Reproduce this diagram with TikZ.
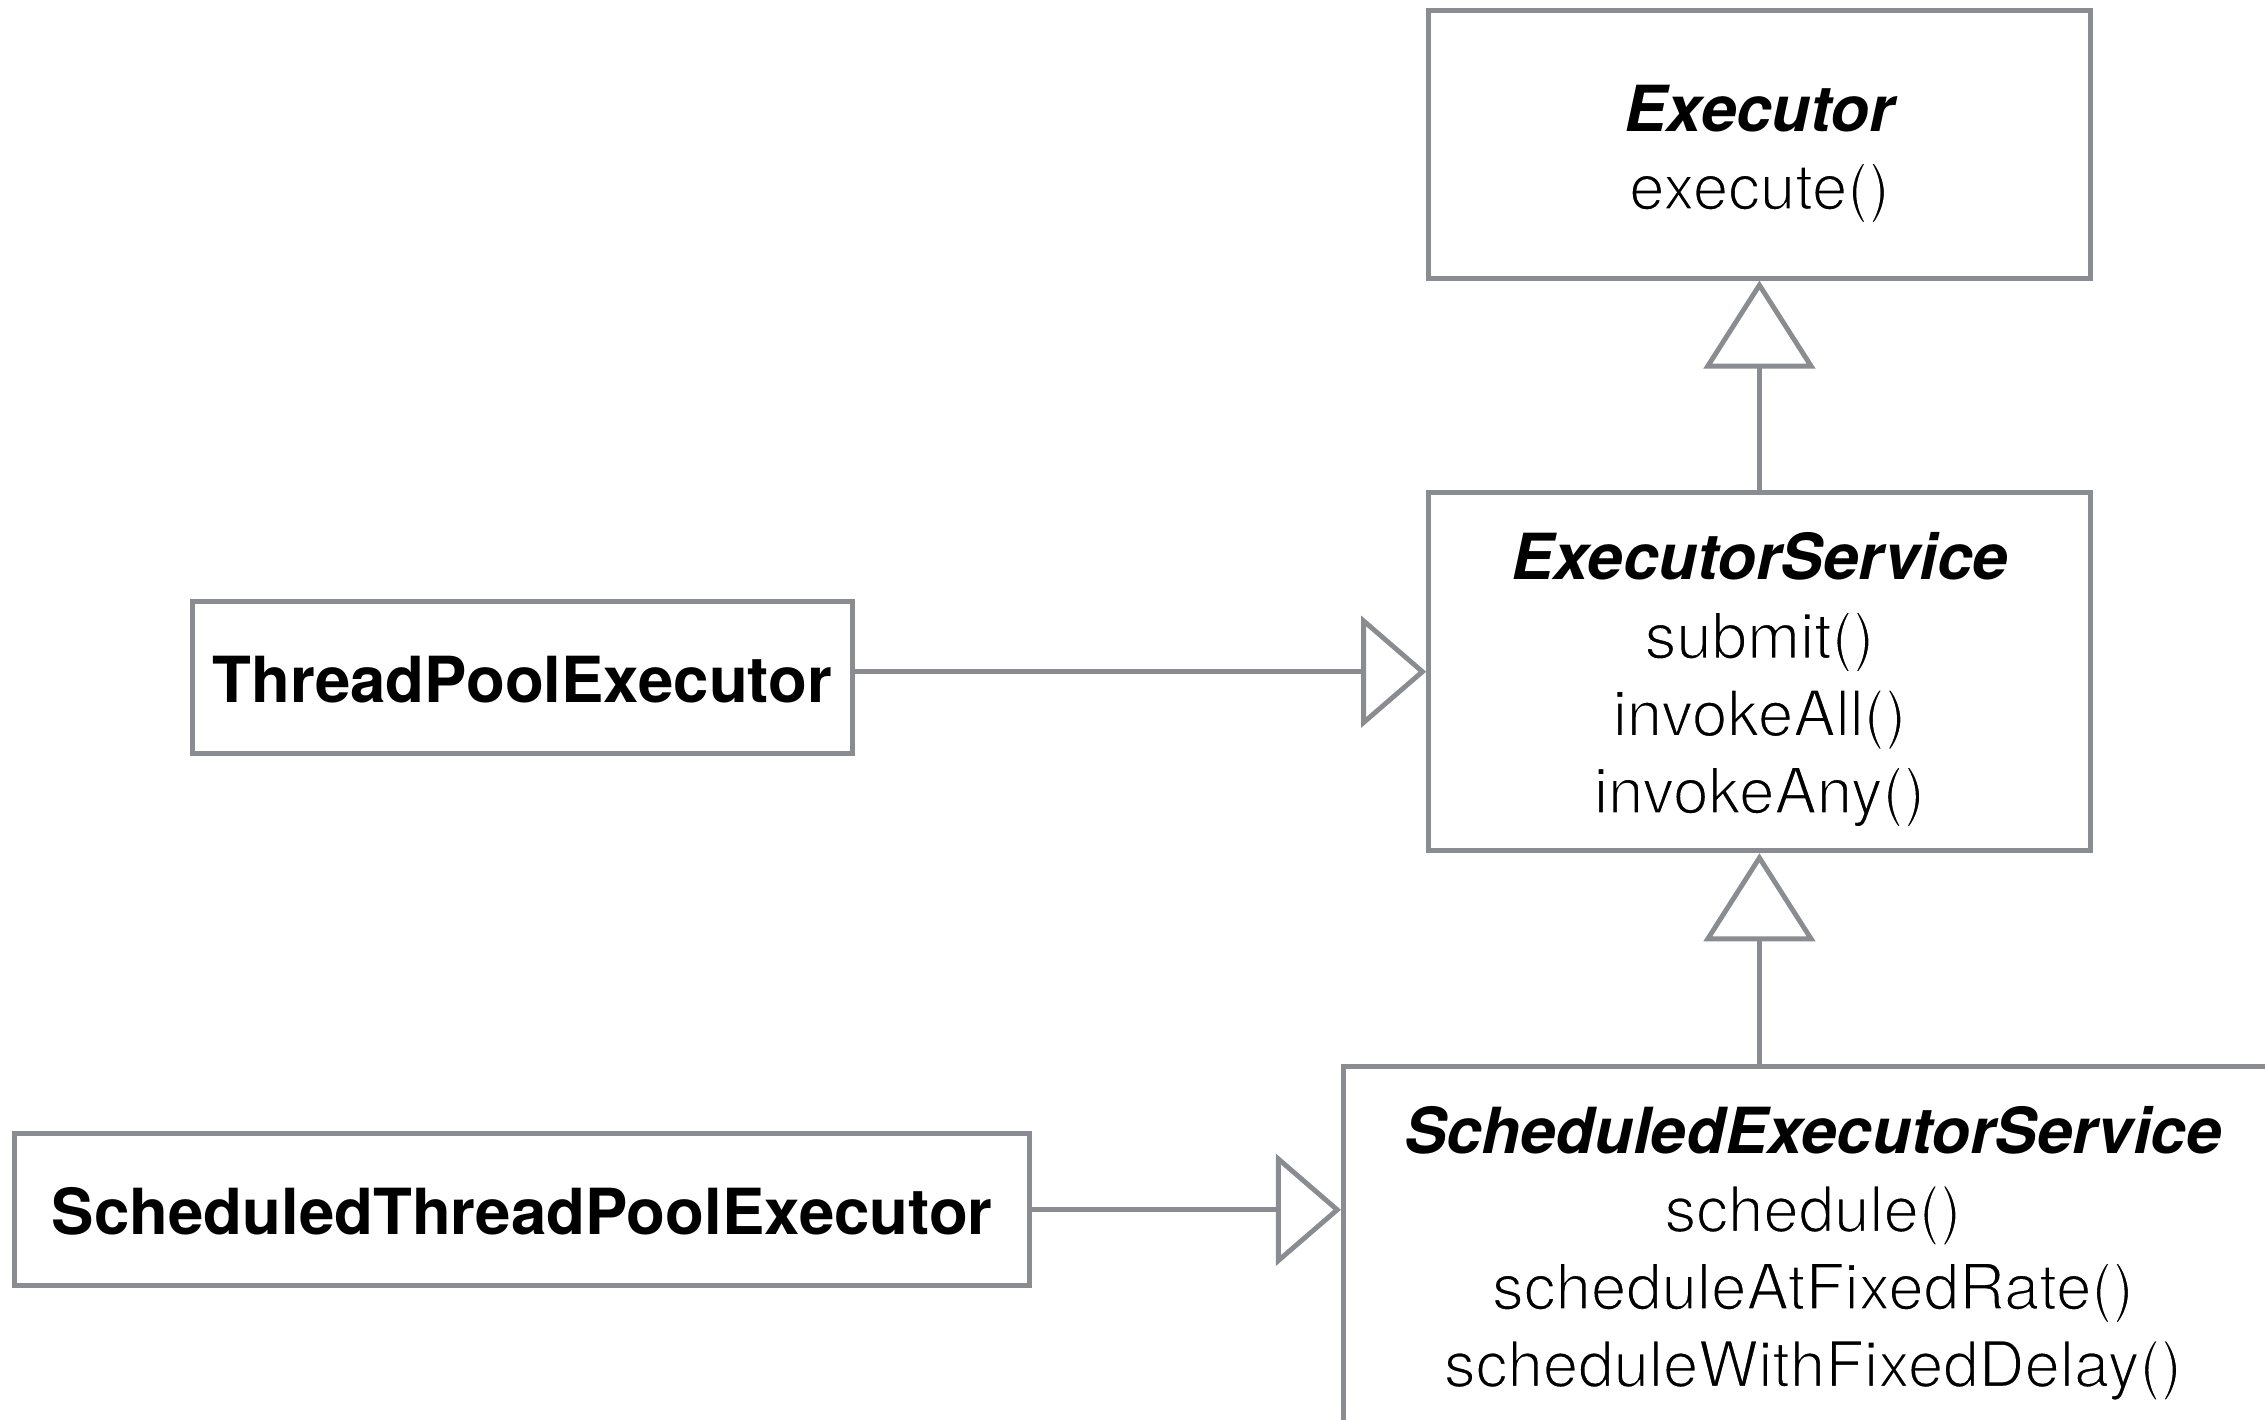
\documentclass[tikz,border=0pt]{standalone}
\usepackage{fontspec}
\setmainfont{TeX Gyre Heros}
\usetikzlibrary{arrows.meta}
\definecolor{linegray}{RGB}{137,140,145}
\begin{document}
\begin{tikzpicture}[x=0.5pt,y=-0.5pt,
  box/.style={draw=linegray, line width=1.7pt, inner sep=0pt, fill=white},
  title/.style={anchor=base, inner sep=0pt, font=\fontsize{22pt}{26pt}\selectfont\bfseries\itshape},
  cls/.style={anchor=base, inner sep=0pt, font=\fontsize{22pt}{26pt}\selectfont\bfseries},
  meth/.style={anchor=base, inner sep=0pt, font=\fontsize{22pt}{26pt}\selectfont,
    execute at begin node={\special{pdf:literal direct 2 Tr 1 1 1 RG 0.6 w}},
    execute at end node={\special{pdf:literal direct 0 Tr}}},
  genv/.style={draw=linegray, line width=1.7pt, -{Triangle[open, length=30.5pt, width=38.5pt]}},
  genh/.style={draw=linegray, line width=1.7pt, -{Triangle[open, length=22.5pt, width=38.5pt]}}]
\useasboundingbox (0,0) rectangle (1568,983);
\clip (0,0) rectangle (1568,983);
% boxes
\node[box, minimum width=229pt, minimum height=92.5pt] (ex) at (1218,100) {};
\node[box, minimum width=229pt, minimum height=124pt] (es) at (1218,465) {};
\node[box, minimum width=228.5pt, minimum height=52.5pt] (tpe) at (361.5,469) {};
\node[box, minimum width=351.5pt, minimum height=52.5pt] (stpe) at (361.5,837.5) {};
\node[box, minimum width=325pt, minimum height=136pt] (ses) at (1255,874) {};
% texts
\node[title] (exT) at (1218,90.7) {Executor};
\node[meth] (exM1) at (1218,144.9) {execute()};
\node[title] (esT) at (1218,401.5) {ExecutorService};
\node[meth] (esM1) at (1218,455.8) {submit()};
\node[meth] (esM2) at (1218,509.5) {invokeAll()};
\node[meth] (esM3) at (1218,563) {invokeAny()};
\node[cls] (tpeT) at (361.5,486.4) {ThreadPoolExecutor};
\node[cls] (stpeT) at (361.5,854.5) {ScheduledThreadPoolExecutor};
\node[title] (sesT) at (1255,798.4) {ScheduledExecutorService};
\node[meth] (sesM1) at (1255,852.7) {schedule()};
\node[meth] (sesM2) at (1255,906.4) {scheduleAtFixedRate()};
\node[meth] (sesM3) at (1255,960) {scheduleWithFixedDelay()};
% connectors
\draw[genv] (es.north) -- (ex.south);
\draw[genv] (es.south |- ses.north) -- (es.south);
\draw[genh] (tpe.east |- es.west) -- (es.west);
\draw[genh] (stpe.east) -- (stpe.east -| ses.west);
\end{tikzpicture}
\end{document}
